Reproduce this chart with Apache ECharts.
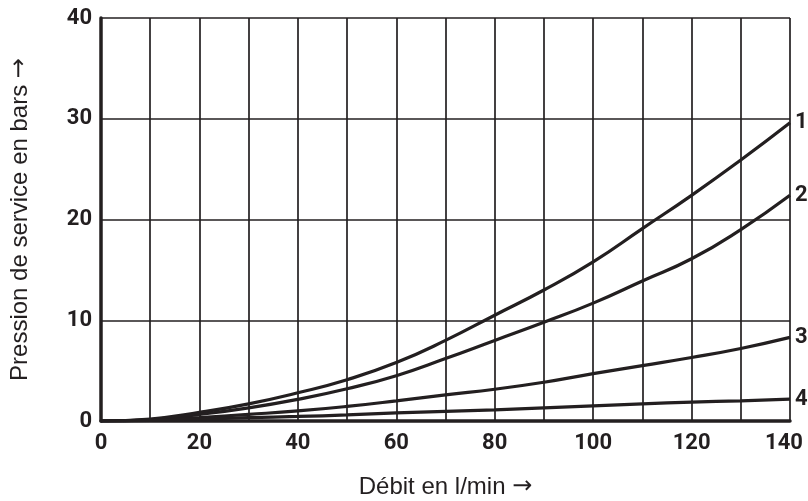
<!DOCTYPE html>
<html>
<head>
<meta charset="utf-8">
<script src="https://cdn.jsdelivr.net/npm/echarts@6/dist/echarts.min.js"></script>
<style>html,body{margin:0;padding:0;background:#fff}#c{width:808px;height:501px}</style>
</head>
<body>
<div id="c"></div>
<script>
const flow = [0, 10, 20, 30, 40, 50, 60, 70, 80, 90, 100, 110, 120, 130, 140];
const curve1 = [0, 0.2, 0.85, 1.7, 2.8, 4.1, 5.8, 8.0, 10.5, 13.0, 15.8, 19.1, 22.4, 25.9, 29.6];
const curve2 = [0, 0.15, 0.65, 1.3, 2.15, 3.2, 4.5, 6.2, 8.0, 9.8, 11.7, 13.9, 16.1, 19.0, 22.4];
const curve3 = [0, 0.1, 0.35, 0.66, 1.0, 1.45, 2.0, 2.6, 3.15, 3.85, 4.7, 5.5, 6.3, 7.2, 8.3];
const curve4 = [0, 0.05, 0.2, 0.33, 0.45, 0.6, 0.8, 0.95, 1.1, 1.3, 1.5, 1.7, 1.88, 2.0, 2.18];
const curveNames = ['1', '2', '3', '4'];
const xTicks = [0, 20, 40, 60, 80, 100, 120, 140];
const yTicks = [0, 10, 20, 30, 40];

const ink = '#231f20';
const condFont = "Roboto, 'Liberation Sans', sans-serif";
const textFont = "'Liberation Sans', Arial, sans-serif";
const chart = echarts.init(document.getElementById('c'), null, {renderer: 'canvas'});

function mk(name, vals) {
  return {
    name: name,
    type: 'line',
    smooth: true,
    symbol: 'none',
    data: flow.map((x, i) => [x, vals[i]]),
    lineStyle: {color: ink, width: 3.2},
    endLabel: {show: true, formatter: name, color: ink, fontFamily: condFont, fontWeight: 'bold', fontSize: 22, distance: 5},
    z: 5
  };
}

const nameRich = {
  t: {fontFamily: textFont, fontSize: 24, color: ink},
  a: {fontFamily: "'DejaVu Sans', sans-serif", fontSize: 24, color: ink}
};
const tickStyle = {color: ink, fontFamily: condFont, fontWeight: 'bold', fontSize: 22};

chart.setOption({
  animation: false,
  grid: {left: 101, right: 18, top: 18, bottom: 80, containLabel: false, outerBoundsMode: 'none'},
  xAxis: {
    type: 'value', min: 0, max: 140, interval: 10,
    name: '{t|Débit en l/min} {a|→}', nameLocation: 'middle', nameGap: 54,
    nameTextStyle: {fontFamily: textFont, fontSize: 24, color: ink, rich: nameRich},
    axisLine: {show: true, lineStyle: {color: ink, width: 3.5}},
    axisTick: {show: false},
    axisLabel: Object.assign({
      formatter: v => xTicks.indexOf(v) < 0 ? '' : (v === 140 ? '{m|' + v + '}' : String(v)),
      margin: 11,
      rich: {m: Object.assign({padding: [0, 12, 0, 0]}, tickStyle)}
    }, tickStyle),
    splitLine: {show: true, lineStyle: {color: ink, width: 1.7}}
  },
  yAxis: {
    type: 'value', min: 0, max: 40, interval: 10,
    name: '{t|Pression de service en bars} {a|→}', nameLocation: 'middle', nameGap: 69,
    nameTextStyle: {fontFamily: textFont, fontSize: 24, color: ink, rich: nameRich},
    axisLine: {show: true, lineStyle: {color: ink, width: 3.5}},
    axisTick: {show: false},
    axisLabel: Object.assign({
      formatter: v => yTicks.indexOf(v) >= 0 ? String(v) : '',
      margin: 9
    }, tickStyle),
    splitLine: {show: true, lineStyle: {color: ink, width: 1.7}}
  },
  series: [mk(curveNames[0], curve1), mk(curveNames[1], curve2), mk(curveNames[2], curve3), mk(curveNames[3], curve4)]
});
</script>
</body>
</html>
